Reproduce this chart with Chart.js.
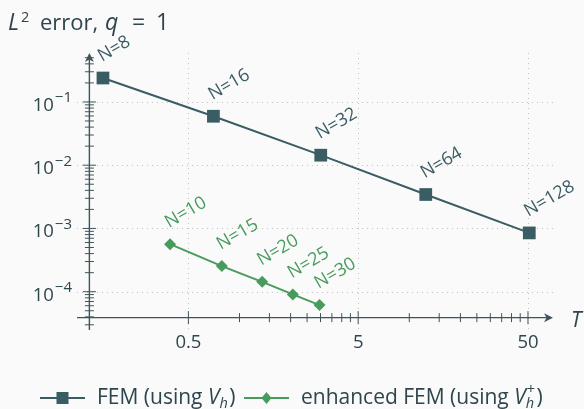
<!DOCTYPE html>
<html>
<head>
<meta charset="utf-8">
<script src="https://cdn.jsdelivr.net/npm/chart.js@4.4.0/dist/chart.umd.min.js"></script>
<style>
  html, body { margin: 0; padding: 0; background: #fafafa; }
  #wrap { width: 584px; height: 409px; }
</style>
</head>
<body>
<div id="wrap"><canvas id="c" width="584" height="409"></canvas></div>
<script>
// Standard FEM: mesh size N, time T, L2 error
const femN   = [8, 16, 32, 64, 128];
const femT   = [0.157, 0.702, 3.01, 12.5, 50.9];
const femErr = [0.239, 0.0594, 0.0144, 0.00344, 0.00085];

// Enhanced FEM
const encN   = [10, 15, 20, 25, 30];
const encT   = [0.390, 0.787, 1.36, 2.06, 2.96];
const encErr = [5.65e-4, 2.54e-4, 1.43e-4, 9.06e-5, 6.14e-5];

// Labelled ticks
const xTicks = [0.5, 5, 50];
const xTickLabels = ['0.5', '5', '50'];
const yTicks = [1e-1, 1e-2, 1e-3, 1e-4];
const yTickExps = ['\u22121', '\u22122', '\u22123', '\u22124'];

const FEM_COLOR = '#3a5c63';
const ENC_COLOR = '#489b5c';
const TEXT_COLOR = '#2e454d';
const AXIS_COLOR = '#3f545b';
const FONT = '"Open Sans", "Noto Sans", sans-serif';

// axis ranges and the crossing point of the two axis lines
const X_MIN = 0.1104, X_MAX = 70.2;
const Y_MIN = 2.48e-5, Y_MAX = 0.594;
const X_CROSS = 0.1306;   // T value where the vertical axis sits
const Y_CROSS = 3.89e-5;  // error value where the horizontal axis sits

function toPoints(xs, ys) { return xs.map((v, i) => ({ x: v, y: ys[i] })); }

function line(ctx, x1, y1, x2, y2) {
  ctx.beginPath(); ctx.moveTo(x1, y1); ctx.lineTo(x2, y2); ctx.stroke();
}

function arrowHead(ctx, x, y, dir) {
  ctx.beginPath();
  if (dir === 'right') {
    ctx.moveTo(x, y); ctx.lineTo(x - 9, y - 4.5); ctx.lineTo(x - 6.5, y); ctx.lineTo(x - 9, y + 4.5);
  } else {
    ctx.moveTo(x, y); ctx.lineTo(x - 4.5, y + 9); ctx.lineTo(x, y + 6.5); ctx.lineTo(x + 4.5, y + 9);
  }
  ctx.closePath(); ctx.fill();
}

const axesPlugin = {
  id: 'axesPlugin',
  beforeDatasetsDraw(chart) {
    const { ctx, chartArea: a } = chart;
    const xs = chart.scales.x, ys = chart.scales.y;
    ctx.save();

    // dotted grid at the labelled ticks
    ctx.strokeStyle = '#c4c4c4';
    ctx.lineWidth = 1;
    ctx.setLineDash([1, 4]);
    yTicks.forEach(v => {
      const py = Math.round(ys.getPixelForValue(v)) + 0.5;
      line(ctx, a.left, py, a.right, py);
    });
    xTicks.forEach(v => {
      const px = Math.round(xs.getPixelForValue(v)) + 0.5;
      line(ctx, px, a.top, px, a.bottom);
    });
    ctx.setLineDash([]);

    const ax = xs.getPixelForValue(X_CROSS);
    const ay = ys.getPixelForValue(Y_CROSS);

    // axis lines
    ctx.strokeStyle = AXIS_COLOR;
    ctx.fillStyle = AXIS_COLOR;
    ctx.lineWidth = 1.4;
    line(ctx, a.left, ay, a.right - 4, ay);
    line(ctx, ax, a.bottom, ax, a.top + 4);
    arrowHead(ctx, a.right, ay, 'right');
    arrowHead(ctx, ax, a.top, 'up');

    // y ticks: majors at decades, minors at 2..9 x decade
    ctx.lineWidth = 1;
    for (let k = -6; k <= 0; k++) {
      for (let m = 1; m <= 9; m++) {
        const v = m * Math.pow(10, k);
        if (v < Y_MIN || v > Y_MAX) continue;
        const py = ys.getPixelForValue(v);
        const h = m === 1 ? 6.5 : 4.5;
        line(ctx, ax - h, py, ax + h, py);
      }
    }
    // x ticks: majors at 0.5 x decade, minors at m x 0.5 x decade
    for (let k = 0; k <= 2; k++) {
      for (let m = 1; m <= 9; m++) {
        const v = 0.5 * m * Math.pow(10, k);
        if (v > X_MAX) continue;
        const px = xs.getPixelForValue(v);
        const h = m === 1 ? 6.5 : 4.5;
        line(ctx, px, ay - h, px, ay + h);
      }
    }

    // tick labels
    ctx.fillStyle = TEXT_COLOR;
    ctx.textBaseline = 'alphabetic';
    ctx.font = '18.5px ' + FONT;
    ctx.textAlign = 'center';
    xTicks.forEach((v, i) => {
      ctx.fillText(xTickLabels[i], xs.getPixelForValue(v), 348);
    });
    yTicks.forEach((v, i) => {
      const py = ys.getPixelForValue(v);
      ctx.textAlign = 'right';
      ctx.font = '15px ' + FONT;
      const ew = ctx.measureText(yTickExps[i]).width;
      ctx.fillText(yTickExps[i], 72, py + 0.5);
      ctx.font = '18.5px ' + FONT;
      ctx.fillText('10', 72 - ew - 1, py + 9);
    });

    // horizontal axis label
    ctx.textAlign = 'left';
    ctx.font = 'italic 21px ' + FONT;
    ctx.fillText('T', 571, 327);

    ctx.restore();
  },

  afterDatasetsDraw(chart) {
    const { ctx } = chart;
    ctx.save();
    // rotated "N=…" labels above each mark
    const groups = [[0, femN, FEM_COLOR], [1, encN, ENC_COLOR]];
    ctx.font = '18px ' + FONT;
    ctx.textAlign = 'left';
    ctx.textBaseline = 'alphabetic';
    groups.forEach(([di, ns, col]) => {
      const meta = chart.getDatasetMeta(di);
      ctx.fillStyle = col;
      meta.data.forEach((pt, i) => {
        ctx.save();
        ctx.translate(pt.x - 1, pt.y - 16);
        ctx.rotate(-Math.PI / 6);
        ctx.fillText('N=' + ns[i], 0, 0);
        ctx.restore();
      });
    });

    // title: L^2 error, q = 1
    ctx.fillStyle = TEXT_COLOR;
    const base = 30;
    ctx.font = 'italic 23px ' + FONT;
    ctx.fillText('L', 8, base);
    ctx.font = '14.5px ' + FONT;
    ctx.fillText('2', 21, base - 8);
    ctx.font = '22px ' + FONT;
    ctx.fillText('error,', 40, base);
    ctx.font = 'italic 23px ' + FONT;
    ctx.fillText('q', 105, base);
    ctx.font = '23px ' + FONT;
    ctx.fillText('=', 132, base);
    ctx.fillText('1', 156, base);

    // legend
    const ly = 398;
    const drawSample = (x1, x2, col, shape) => {
      ctx.strokeStyle = col; ctx.fillStyle = col; ctx.lineWidth = 2;
      line(ctx, x1, ly, x2, ly);
      const cx = (x1 + x2) / 2;
      ctx.beginPath();
      if (shape === 'square') {
        ctx.rect(cx - 6, ly - 6, 12, 12);
      } else {
        ctx.moveTo(cx, ly - 6); ctx.lineTo(cx + 5, ly); ctx.lineTo(cx, ly + 6); ctx.lineTo(cx - 5, ly);
        ctx.closePath();
      }
      ctx.fill();
    };
    const tb = 404;
    const drawEntry = (x0, prefix, plus) => {
      ctx.fillStyle = TEXT_COLOR;
      let cx = x0;
      ctx.font = '21px ' + FONT;
      ctx.fillText(prefix, cx, tb); cx += ctx.measureText(prefix).width;
      ctx.font = 'italic 21px ' + FONT;
      ctx.fillText('V', cx, tb); cx += ctx.measureText('V').width;
      ctx.font = 'italic 14.5px ' + FONT;
      ctx.fillText('h', cx, tb + 4);
      let w = ctx.measureText('h').width;
      if (plus) {
        ctx.font = '14.5px ' + FONT;
        ctx.fillText('+', cx + 1, tb - 10);
        w = Math.max(w, ctx.measureText('+').width + 1);
      }
      cx += w + 1.5;
      ctx.font = '21px ' + FONT;
      ctx.fillText(')', cx, tb);
    };
    drawSample(40, 85, FEM_COLOR, 'square');
    drawEntry(97, 'FEM (using ', false);
    drawSample(244, 289, ENC_COLOR, 'diamond');
    drawEntry(301, 'enhanced FEM (using ', true);

    ctx.restore();
  }
};

new Chart(document.getElementById('c'), {
  type: 'line',
  data: {
    datasets: [
      {
        label: 'FEM (using V_h)',
        data: toPoints(femT, femErr),
        borderColor: FEM_COLOR,
        backgroundColor: FEM_COLOR,
        borderWidth: 2,
        pointStyle: 'rect',
        pointRadius: 9,
        pointHoverRadius: 9,
        pointBorderWidth: 0,
        tension: 0
      },
      {
        label: 'enhanced FEM (using V_h^+)',
        data: toPoints(encT, encErr),
        borderColor: ENC_COLOR,
        backgroundColor: ENC_COLOR,
        borderWidth: 2,
        pointStyle: 'rectRot',
        pointRadius: 6,
        pointHoverRadius: 6,
        pointBorderWidth: 0,
        tension: 0
      }
    ]
  },
  options: {
    responsive: false,
    animation: false,
    devicePixelRatio: 1,
    layout: { padding: { left: 77, right: 31, top: 53, bottom: 79 } },
    plugins: { legend: { display: false }, tooltip: { enabled: false } },
    scales: {
      x: { type: 'logarithmic', min: X_MIN, max: X_MAX, display: false },
      y: { type: 'logarithmic', min: Y_MIN, max: Y_MAX, display: false }
    }
  },
  plugins: [axesPlugin]
});
</script>
</body>
</html>
